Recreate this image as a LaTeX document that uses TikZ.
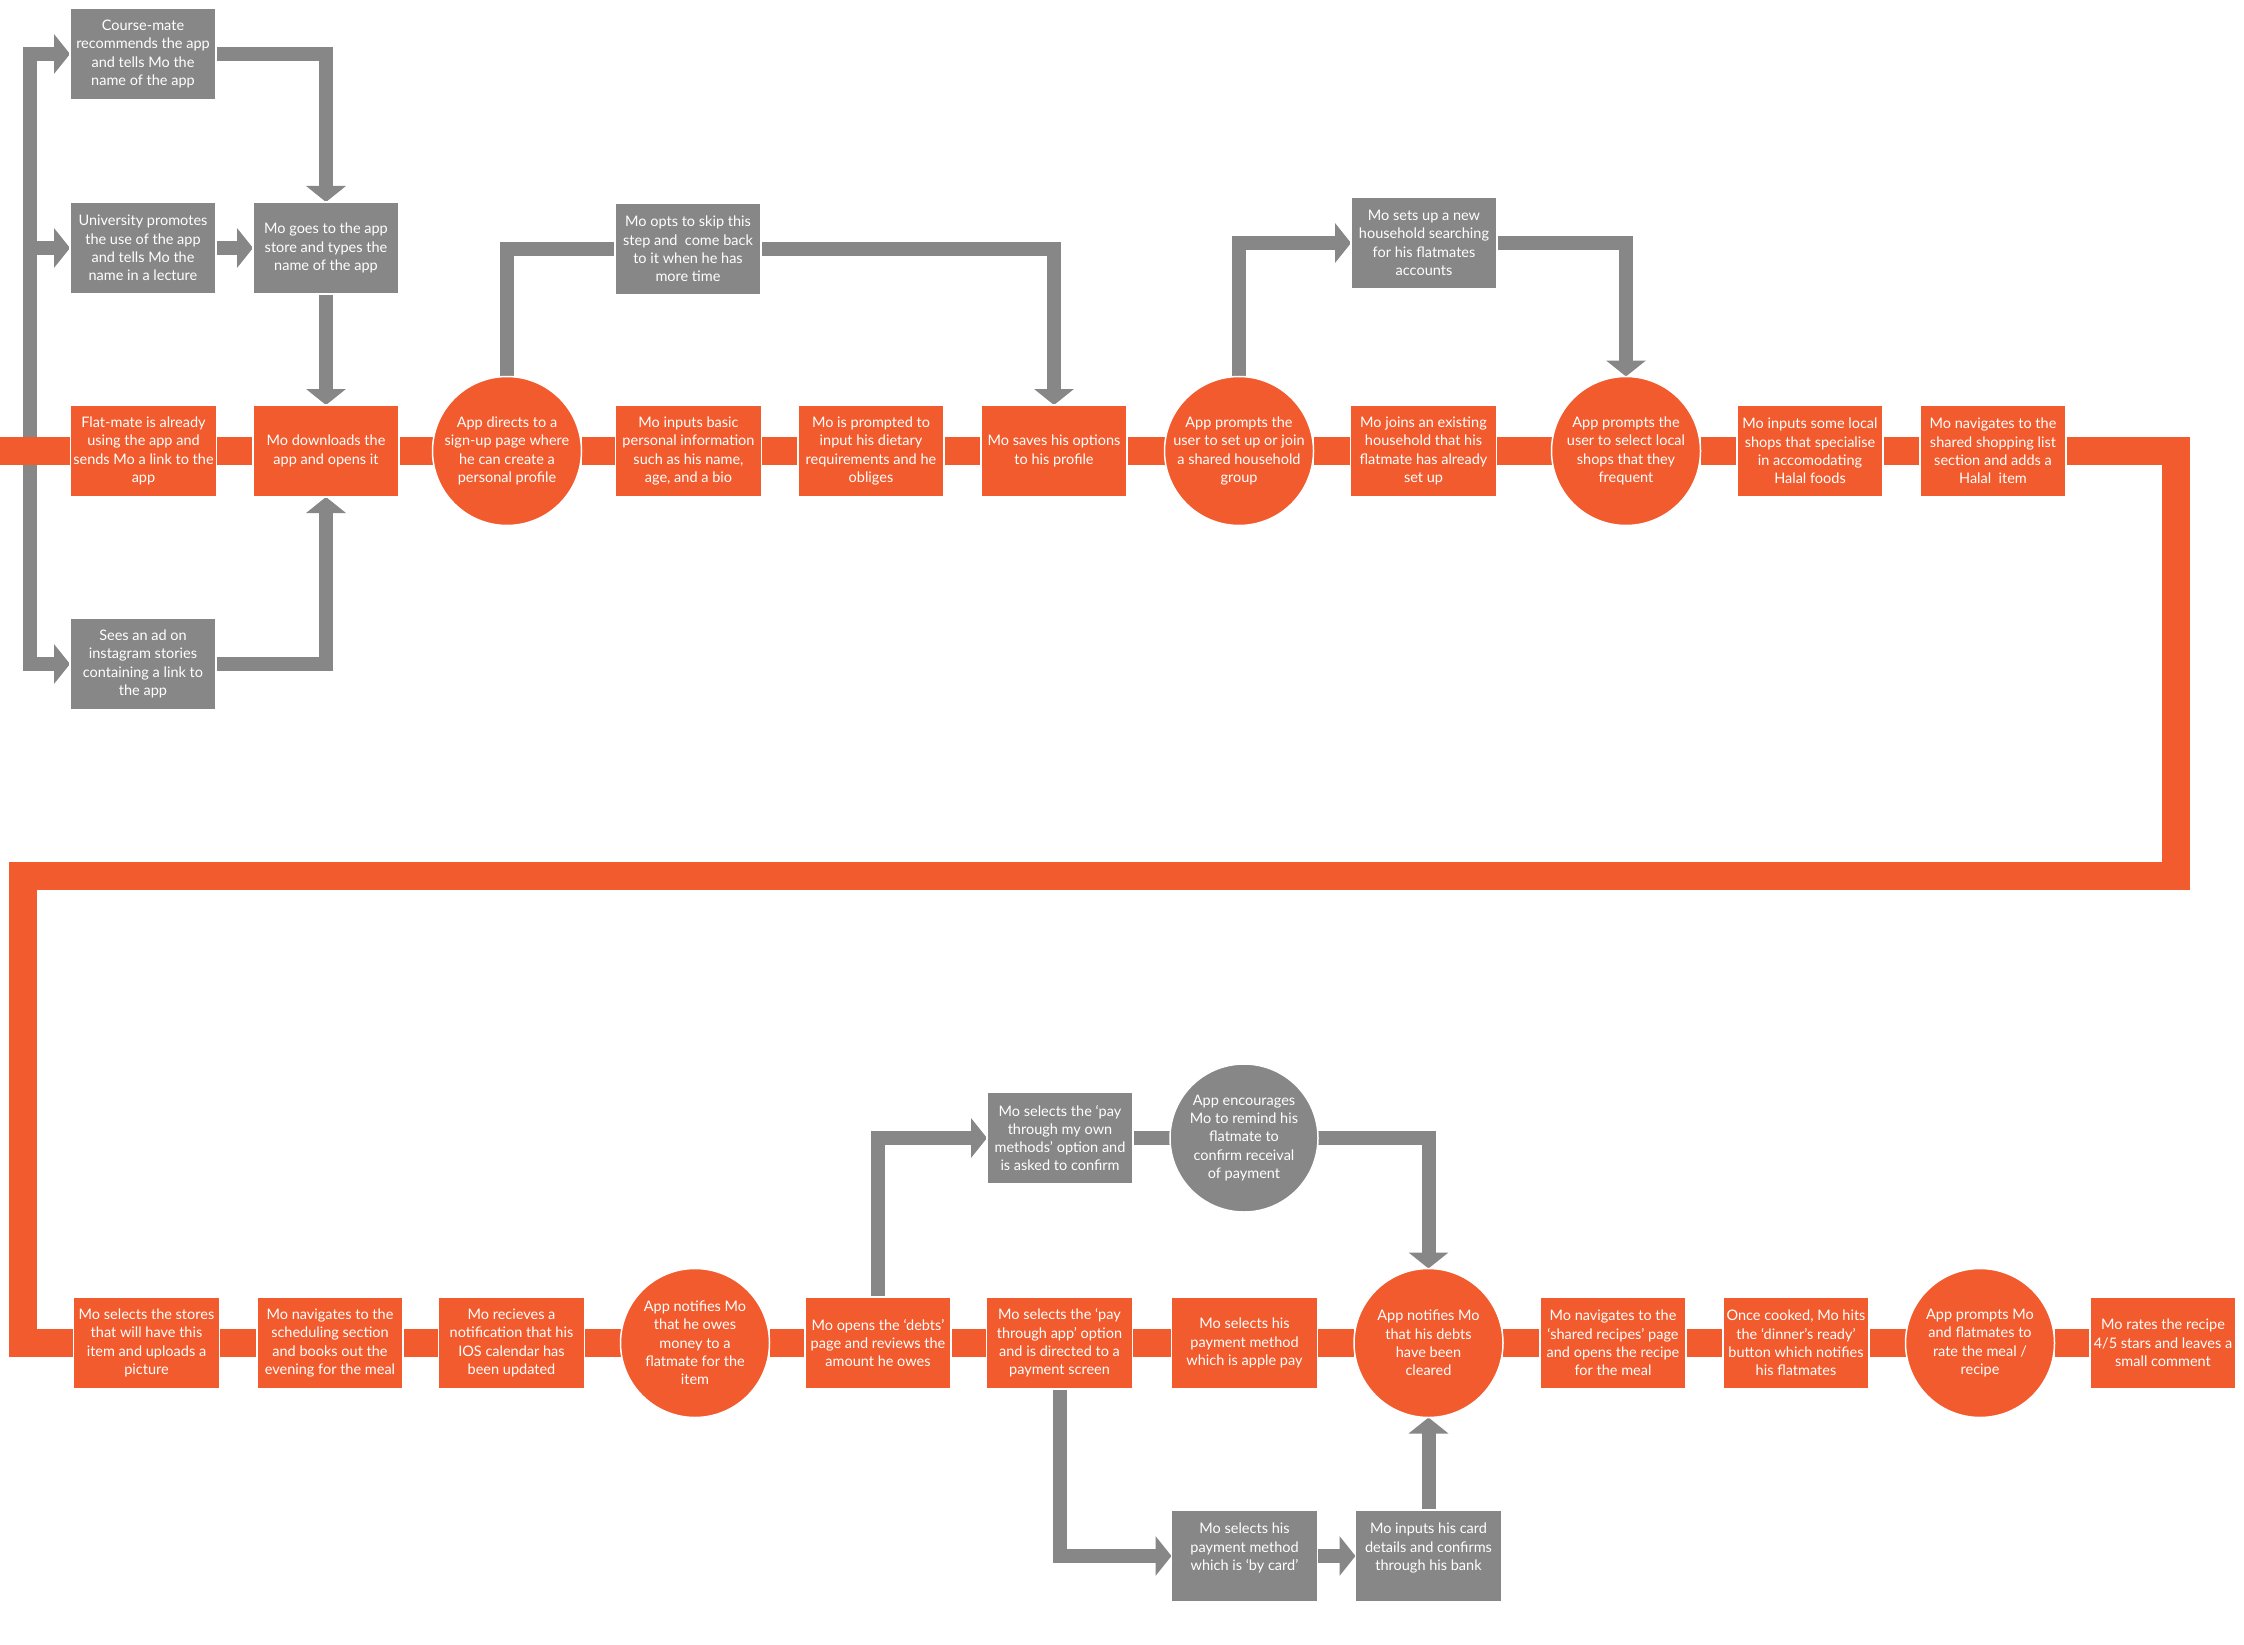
\documentclass[tikz,border=0pt]{standalone}
\usepackage{fontspec}
\setmainfont{Lato}
\usetikzlibrary{arrows.meta}
\definecolor{orng}{RGB}{241,91,46}
\definecolor{gry}{RGB}{134,135,134}
\pgfdeclarelayer{back}
\pgfdeclarelayer{bg}
\pgfsetlayers{back,bg,main}
\tikzset{
  txt/.style={text=white, align=center, font=\fontsize{14.5}{18.3}\selectfont, inner sep=0pt, outer sep=0pt},
  obox/.style={txt, rectangle, fill=orng, draw=white, line width=1.2pt, minimum width=146pt, minimum height=92pt},
  gbox/.style={txt, rectangle, fill=gry, draw=white, line width=1.2pt, minimum width=146pt, minimum height=92pt},
  ocirc/.style={txt, circle, fill=orng, draw=white, line width=1.5pt, minimum size=149pt},
  gcirc/.style={txt, circle, fill=gry, draw=white, line width=1.5pt, minimum size=148pt},
  band/.style={draw=orng, line width=27.5pt, line join=miter},
  gline/.style={draw=gry, line width=14pt, line join=miter},
  garrow/.style={gline, -{Triangle[width=39pt,length=16pt]}},
  garrows/.style={gline, {Triangle[width=39pt,length=16pt]}-{Triangle[width=39pt,length=16pt]}},
}
\begin{document}
\begin{tikzpicture}[x=1pt,y=-1pt]
\useasboundingbox (0,0) rectangle (2244,1645);
\begin{pgfonlayer}{back}
\fill[white] (0,0) rectangle (2244,1645);
\end{pgfonlayer}

% ---------- top-left entry points ----------
\node[gbox] (cm) at (143,54) {Course-mate\\recommends the app\\and tells Mo the\\name of the app};
\node[gbox] (un) at (143,248) {University promotes\\the use of the app\\and tells Mo the\\name in a lecture};
\node[gbox] (mg) at (326,248) {Mo goes to the app\\store and types the\\name of the app};
\node[gbox] (sa) at (143,664) {Sees an ad on\\instagram stories\\containing a link to\\the app};

% ---------- row 1 ----------
\node[obox] (fm) at (143.5,451) {Flat-mate is already\\using the app and\\sends Mo a link to the\\app};
\node[obox] (dl) at (326,451) {Mo downloads the\\app and opens it};
\node[ocirc] (cd) at (507,451) {App directs to a\\sign-up page where\\he can create a\\personal profile};
\node[obox] (bi) at (688.5,451) {Mo inputs basic\\personal information\\such as his name,\\age, and a bio};
\node[obox] (dp) at (871,451) {Mo is prompted to\\input his dietary\\requirements and he\\obliges};
\node[obox] (so) at (1054,451) {Mo saves his options\\to his profile};
\node[ocirc] (cp) at (1239,451) {App prompts the\\user to set up or join\\a shared household\\group};
\node[obox] (jn) at (1423.5,451) {Mo joins an existing\\household that his\\flatmate has already\\set up};
\node[ocirc] (cs) at (1626,451) {App prompts the\\user to select local\\shops that they\\frequent};
\node[obox] (il) at (1810,451) {Mo inputs some local\\shops that specialise\\in accomodating\\Halal foods};
\node[obox] (ns) at (1993,451) {Mo navigates to the\\shared shopping list\\section and adds a\\Halal~ item};

\node[gbox] (sk) at (688,249) {Mo opts to skip this\\step and~ come back\\to it when he has\\more time};
\node[gbox] (su) at (1424,243) {Mo sets up a new\\household searching\\for his flatmates\\accounts};

% ---------- row 2 ----------
\node[obox] (ss) at (146.5,1343) {Mo selects the stores\\that will have this\\item and uploads a\\picture};
\node[obox] (sc) at (330,1343) {Mo navigates to the\\scheduling section\\and books out the\\evening for the meal};
\node[obox] (rc) at (511.5,1343) {Mo recieves a\\notification that his\\IOS calendar has\\been updated};
\node[ocirc] (on) at (695,1343) {App notifies Mo\\that he owes\\money to a\\flatmate for the\\item};
\node[obox] (od) at (878,1343) {Mo opens the ‘debts’\\page and reviews the\\amount he owes};
\node[obox] (pa) at (1059.5,1343) {Mo selects the ‘pay\\through app’ option\\and is directed to a\\payment screen};
\node[obox] (ap) at (1244.5,1343) {Mo selects his\\payment method\\which is apple pay};
\node[ocirc] (dc) at (1428.5,1343) {App notifies Mo\\that his debts\\have been\\cleared};
\node[obox] (sr) at (1613,1343) {Mo navigates to the\\‘shared recipes’ page\\and opens the recipe\\for the meal};
\node[obox] (oc) at (1796,1343) {Once cooked, Mo hits\\the ‘dinner’s ready’\\button which notifies\\his flatmates};
\node[ocirc] (rm) at (1980,1343) {App prompts Mo\\and flatmates to\\rate the meal /\\recipe};
\node[obox] (rt) at (2163,1343) {Mo rates the recipe\\4/5 stars and leaves a\\small comment};

\node[gbox] (po) at (1060,1138) {Mo selects the ‘pay\\through my own\\methods’ option and\\is asked to confirm};
\node[gcirc] (ae) at (1244,1138) {App encourages\\Mo to remind his\\flatmate to\\confirm receival\\of payment};
\node[gbox] (bc) at (1244.5,1556) {Mo selects his\\payment method\\which is ‘by card’\\\mbox{}};
\node[gbox] (ic) at (1428.5,1556) {Mo inputs his card\\details and confirms\\through his bank\\\mbox{}};

% ---------- connectors ----------
\begin{pgfonlayer}{bg}
\coordinate (t2) at (30,248);
\coordinate (t3) at (30,664);
\draw[garrows] (cm.west) -| (t3) -- (sa.west);
\draw[garrow] (t2) -- (un.west);
\draw[garrow] (cm.east) -| (mg.north);
\draw[garrow] (un.east) -- (mg.west);
\draw[garrow] (mg.south) -- (dl.north);
\draw[garrow] (sa.east) -| (dl.south);

\draw[gline] (cd.north) |- (sk.west);
\draw[garrow] (sk.east) -| (so.north);
\draw[garrow] (cp.north) |- (su.west);
\draw[garrow] (su.east) -| (cs.north);

\draw[garrow] (od.north) |- (po.west);
\draw[gline] (po.east) -- (ae.west);
\draw[garrow] (ae.east) -| (dc.north);
\draw[garrow] (pa.south) |- (bc.west);
\draw[garrow] (bc.east) -- (ic.west);
\draw[garrow] (ic.north) -- (dc.south);

\coordinate (b0) at (0,451);
\coordinate (b1) at (2176,451);
\coordinate (b2) at (2176,876);
\coordinate (b3) at (23,876);
\coordinate (b4) at (23,1343);
\draw[band] (b0) -- (fm);
\draw[band] (fm) -- (dl);
\draw[band] (dl) -- (cd);
\draw[band] (cd) -- (bi);
\draw[band] (bi) -- (dp);
\draw[band] (dp) -- (so);
\draw[band] (so) -- (cp);
\draw[band] (cp) -- (jn);
\draw[band] (jn) -- (cs);
\draw[band] (cs) -- (il);
\draw[band] (il) -- (ns);
\draw[band] (ns) -- (b1) -- (b2) -- (b3) -- (b4) -- (ss);
\draw[band] (ss) -- (sc);
\draw[band] (sc) -- (rc);
\draw[band] (rc) -- (on);
\draw[band] (on) -- (od);
\draw[band] (od) -- (pa);
\draw[band] (pa) -- (ap);
\draw[band] (ap) -- (dc);
\draw[band] (dc) -- (sr);
\draw[band] (sr) -- (oc);
\draw[band] (oc) -- (rm);
\draw[band] (rm) -- (rt);
\end{pgfonlayer}
\end{tikzpicture}
\end{document}
